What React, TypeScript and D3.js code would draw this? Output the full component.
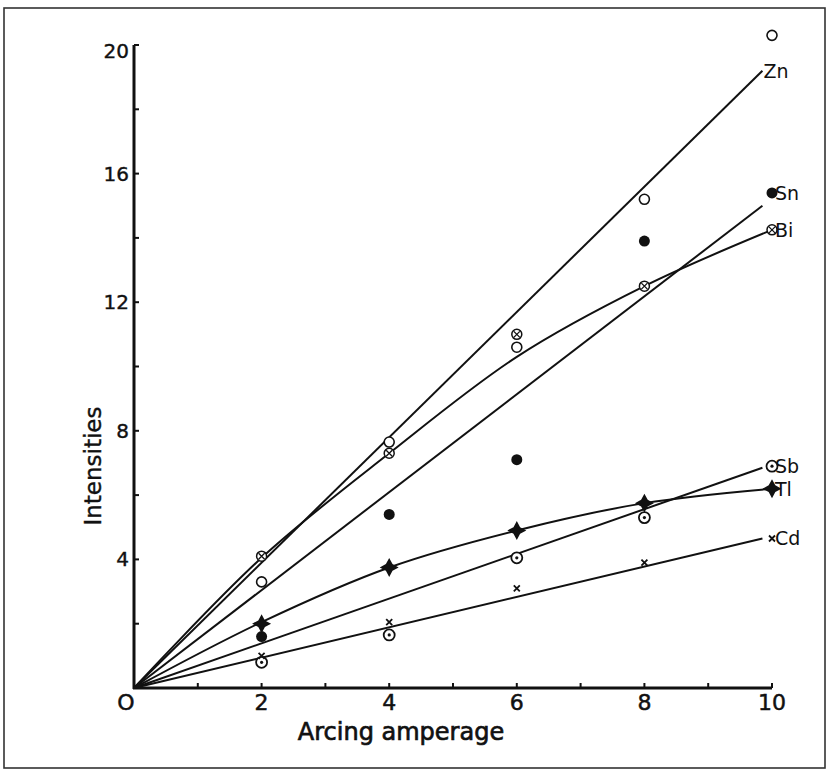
import React, { useEffect, useRef } from 'react';
import * as d3 from 'd3';

// amperage at which readings were taken
const amperage = [2, 4, 6, 8, 10];

// measured intensities (markers)
const znPts = [3.3, 7.65, 10.6, 15.2, 20.3];
const snPts = [1.6, 5.4, 7.1, 13.9, 15.4];
const biPts = [4.1, 7.3, 11.0, 12.5, 14.25];
const sbPts = [0.8, 1.65, 4.05, 5.3, 6.9];
const tlPts = [2.0, 3.75, 4.9, 5.75, 6.2];
const cdPts = [1.0, 2.05, 3.1, 3.9, 4.65];

// drawn fit lines
const straightX = [0, 9.85];
const znFit = [0, 19.2];
const snFit = [0, 15.0];
const sbFit = [0, 6.85];
const cdFit = [0, 4.65];
const curveX = [0, 2, 4, 6, 8, 10];
const biFit = [0, 4.05, 7.3, 10.3, 12.5, 14.25];
const tlFit = [0, 2.05, 3.75, 4.9, 5.75, 6.2];

const xTicks = [0, 2, 4, 6, 8, 10];
const yTicks = [4, 8, 12, 16, 20];

const W = 828;
const H = 777;
const INK = '#111';
const FONT = '"DejaVu Sans", sans-serif';

// four-pointed filled star for Tl
const star4 = {
  draw(ctx: any, size: number) {
    const r = Math.sqrt(size) * 0.8;
    const k = r * 0.35;
    ctx.moveTo(0, -r);
    ctx.lineTo(k, -k);
    ctx.lineTo(r, 0);
    ctx.lineTo(k, k);
    ctx.lineTo(0, r);
    ctx.lineTo(-k, k);
    ctx.lineTo(-r, 0);
    ctx.lineTo(-k, -k);
    ctx.closePath();
  },
};

const Chart = () => {
  const svgRef = useRef<SVGSVGElement>(null);

  useEffect(() => {
    const svg = d3.select(svgRef.current);
    svg.selectAll('*').remove();

    const x = d3.scaleLinear().domain([0, 10]).range([134, 772]);
    const y = d3.scaleLinear().domain([0, 20]).range([688, 45]);

    // scanned page frame
    svg.append('rect')
      .attr('x', 4).attr('y', 8)
      .attr('width', W - 7).attr('height', H - 17)
      .attr('fill', 'none')
      .attr('stroke', '#333')
      .attr('stroke-width', 1.6);

    // axes
    svg.append('line')
      .attr('x1', x(0)).attr('x2', x(0))
      .attr('y1', y(0) + 1).attr('y2', y(20))
      .attr('stroke', INK).attr('stroke-width', 3);
    svg.append('line')
      .attr('x1', x(0) - 1).attr('x2', x(10))
      .attr('y1', y(0)).attr('y2', y(0))
      .attr('stroke', INK).attr('stroke-width', 3);

    // small ticks
    svg.selectAll('.xt')
      .data(d3.range(1, 11))
      .enter().append('line')
      .attr('x1', d => x(d)).attr('x2', d => x(d))
      .attr('y1', y(0)).attr('y2', y(0) - 5)
      .attr('stroke', INK).attr('stroke-width', 2);
    svg.selectAll('.yt')
      .data(d3.range(2, 21, 2))
      .enter().append('line')
      .attr('x1', x(0)).attr('x2', x(0) + 5)
      .attr('y1', d => y(d)).attr('y2', d => y(d))
      .attr('stroke', INK).attr('stroke-width', 2);

    // tick labels
    svg.selectAll('.xl')
      .data(xTicks)
      .enter().append('text')
      .attr('x', d => x(d) - (d === 0 ? 8 : 0))
      .attr('y', y(0) + 22)
      .attr('text-anchor', 'middle')
      .style('font-family', FONT)
      .style('font-size', '22px')
      .attr('fill', INK)
      .attr('stroke', INK).attr('stroke-width', 0.5)
      .text(d => (d === 0 ? 'O' : d));
    svg.selectAll('.yl')
      .data(yTicks)
      .enter().append('text')
      .attr('x', x(0) - 5)
      .attr('y', d => y(d) + (d === 20 ? 6 : 0))
      .attr('dy', '0.35em')
      .attr('text-anchor', 'end')
      .style('font-family', FONT)
      .style('font-size', '20px')
      .attr('fill', INK)
      .attr('stroke', INK).attr('stroke-width', 0.4)
      .text(d => d);

    // axis titles
    svg.append('text')
      .attr('x', 401).attr('y', 740)
      .attr('text-anchor', 'middle')
      .style('font-family', FONT)
      .style('font-size', '24px')
      .attr('fill', INK)
      .attr('stroke', INK).attr('stroke-width', 0.7)
      .text('Arcing amperage');
    svg.append('text')
      .attr('transform', `translate(101,${466}) rotate(-90)`)
      .attr('text-anchor', 'middle')
      .style('font-family', FONT)
      .style('font-size', '23px')
      .attr('fill', INK)
      .attr('stroke', INK).attr('stroke-width', 0.4)
      .text('Intensities');

    // fit lines
    const straight = d3.line<number>().x((_, i) => x(straightX[i])).y(d => y(d));
    const curved = d3.line<number>().x((_, i) => x(curveX[i])).y(d => y(d)).curve(d3.curveCatmullRom);
    [znFit, snFit, sbFit, cdFit].forEach(f => {
      svg.append('path').attr('d', straight(f)).attr('fill', 'none')
        .attr('stroke', INK).attr('stroke-width', 2);
    });
    [biFit, tlFit].forEach(f => {
      svg.append('path').attr('d', curved(f)).attr('fill', 'none')
        .attr('stroke', INK).attr('stroke-width', 2);
    });

    const g = svg.append('g');
    const pts = (vals: number[]) => vals.map((v, i) => ({ a: amperage[i], v }));

    // Zn: open circles
    g.selectAll('.zn').data(pts(znPts)).enter().append('circle')
      .attr('cx', d => x(d.a)).attr('cy', d => y(d.v)).attr('r', 5)
      .attr('fill', 'white').attr('stroke', INK).attr('stroke-width', 1.6);
    // Sn: filled circles
    g.selectAll('.sn').data(pts(snPts)).enter().append('circle')
      .attr('cx', d => x(d.a)).attr('cy', d => y(d.v)).attr('r', 5.5)
      .attr('fill', INK);
    // Bi: circle with cross
    const bi = g.selectAll('.bi').data(pts(biPts)).enter().append('g')
      .attr('transform', d => `translate(${x(d.a)},${y(d.v)})`);
    bi.append('circle').attr('r', 5).attr('fill', 'white').attr('stroke', INK).attr('stroke-width', 1.5);
    bi.append('path').attr('d', 'M-3,-3L3,3M3,-3L-3,3').attr('stroke', INK).attr('stroke-width', 1.3);
    // Sb: circle with dot
    const sb = g.selectAll('.sb').data(pts(sbPts)).enter().append('g')
      .attr('transform', d => `translate(${x(d.a)},${y(d.v)})`);
    sb.append('circle').attr('r', 5.5).attr('fill', 'white').attr('stroke', INK).attr('stroke-width', 1.8);
    sb.append('circle').attr('r', 1.6).attr('fill', INK);
    // Tl: filled four-point star
    g.selectAll('.tl').data(pts(tlPts)).enter().append('path')
      .attr('transform', d => `translate(${x(d.a)},${y(d.v)})`)
      .attr('d', d3.symbol().type(star4 as any).size(140)())
      .attr('fill', INK);
    // Cd: small crosses
    g.selectAll('.cd').data(pts(cdPts)).enter().append('path')
      .attr('transform', d => `translate(${x(d.a)},${y(d.v)})`)
      .attr('d', 'M-3,-3L3,3M3,-3L-3,3')
      .attr('stroke', INK).attr('stroke-width', 1.8);

    // series labels
    const labels = [
      { name: 'Zn', a: straightX[1], v: znFit[1] },
      { name: 'Sn', a: 10, v: snPts[4] },
      { name: 'Bi', a: 10, v: biPts[4] },
      { name: 'Sb', a: 10, v: sbPts[4] },
      { name: 'Tl', a: 10, v: tlPts[4] },
      { name: 'Cd', a: 10, v: cdPts[4] },
    ];
    svg.selectAll('.lab').data(labels).enter().append('text')
      .attr('x', d => x(d.a) + (d.a === 10 ? 3 : 1))
      .attr('y', d => y(d.v))
      .attr('dy', '0.36em')
      .style('font-family', FONT)
      .style('font-size', '19px')
      .attr('fill', INK)
      .text(d => d.name);
  }, []);

  return (
    <svg ref={svgRef} width={W} height={H}
      style={{ position: 'absolute', left: 0, top: 0, background: 'white' }} />
  );
};

export default function App() {
  return <Chart />;
}
